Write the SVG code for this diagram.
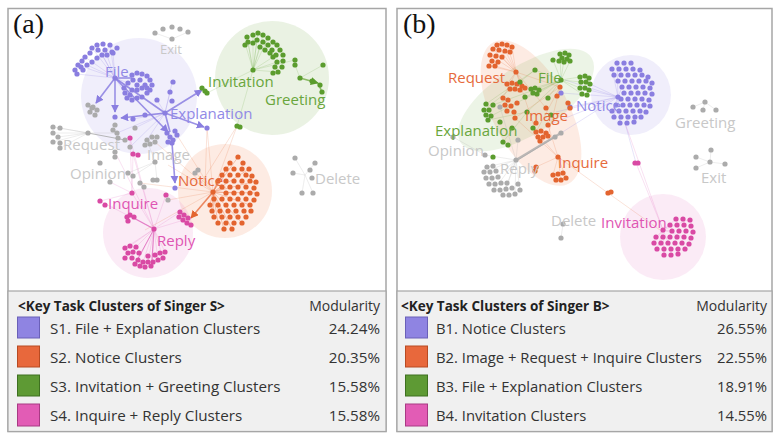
<svg xmlns="http://www.w3.org/2000/svg" width="777" height="438" viewBox="0 0 777 438">
<style>
.frame{fill:#fff;stroke:#a6a6a6;stroke-width:1.5}
.leg{fill:#f0f0f0;stroke:#a6a6a6;stroke-width:1.2}
.lbl{font-family:"Open Sans","Noto Sans","DejaVu Sans",sans-serif;font-size:15px}
.pu{fill:#8a7ee0}.or{fill:#e3642f}.gr{fill:#5b9c2e}.pk{fill:#d94aa4}.gy{fill:#ababab}
.tpu{fill:#9189e6}.tor{fill:#e66a3b}.tgr{fill:#69a63c}.tpk{fill:#df55b3}.tgy{fill:#c8c8c8}
.dots circle{r:2.6px}
.e-pu{stroke:#8a7ee0;fill:none}
.e-or{stroke:#e8764a;fill:none}
.e-gr{stroke:#7ab050;fill:none}
.e-pk{stroke:#e070c0;fill:none}
.e-gy{stroke:#aaaaaa;fill:none}
.faint{stroke-width:0.6;stroke-opacity:0.35}
.bold{stroke-width:1.6;stroke-opacity:0.85}
.ptitle{font-family:"Liberation Serif",serif;font-size:28px;fill:#111}
.lh{font-family:"Open Sans","Noto Sans",sans-serif;font-size:13.5px;font-weight:bold;fill:#222}
.lt{font-family:"Open Sans","Noto Sans",sans-serif;font-size:15.2px;fill:#333}
.ltb{font-family:"Open Sans","Noto Sans",sans-serif;font-size:14.8px;fill:#333}
.mod{font-family:"Open Sans","Noto Sans",sans-serif;font-size:14px;fill:#333}
</style>
<defs>
<marker id="apu" viewBox="0 0 10 10" refX="9" refY="5" markerWidth="5" markerHeight="5" orient="auto"><path d="M0,0L10,5L0,10z" fill="#8a7ee0"/></marker>
<marker id="aor" viewBox="0 0 10 10" refX="9" refY="5" markerWidth="5" markerHeight="5" orient="auto"><path d="M0,0L10,5L0,10z" fill="#e3642f"/></marker>
<marker id="agr" viewBox="0 0 10 10" refX="9" refY="5" markerWidth="5" markerHeight="5" orient="auto"><path d="M0,0L10,5L0,10z" fill="#5b9c2e"/></marker>
</defs>
<rect width="777" height="438" fill="#fff"/>

<!-- Panel frames -->
<rect class="frame" x="8" y="8.5" width="378" height="423"/>
<rect class="leg" x="8" y="291" width="378" height="140.5"/>
<rect class="frame" x="397" y="8.5" width="375" height="423"/>
<rect class="leg" x="397" y="291" width="375" height="140.5"/>

<!-- ===== Panel (a) halos ===== -->
<g id="a-halos">
<circle cx="139" cy="96" r="58" fill="#8a7ee0" fill-opacity="0.13"/>
<circle cx="272" cy="78" r="57" fill="#7ab050" fill-opacity="0.16"/>
<circle cx="225" cy="191" r="47" fill="#f08050" fill-opacity="0.16"/>
<circle cx="148" cy="233" r="45" fill="#e070c0" fill-opacity="0.14"/>
</g>

<!-- ===== Panel (a) connectors ===== -->
<g id="a-connectors">
<g class="e-pu faint">
<path d="M115,78L97,45M115,78L103,44M115,78L110,45M115,78L92,48M115,78L85,57M115,78L78,65M115,78L77,74M115,78L87,65M115,78L102,55M115,78L113,53M115,78L132,90M115,78L128,83M115,78L125,93M115,78L130,95"/>
<path d="M165,113L133,119M165,113L145,115M165,113L172,83M165,113L170,92M165,113L157,100M165,113L135,128M165,113L117,133M165,113L147,140M165,113L130,147"/>
</g>
<g class="e-gr faint">
<path d="M253,70L247,37M253,70L253,35M253,70L258,33M253,70L263,35M253,70L268,38M253,70L245,43M253,70L248,42M253,70L257,40M253,70L260,47M253,70L273,57M253,70L278,72M253,70L283,60M253,70L295,60M253,70L207,93M253,70L237,126M300,78L323,65M300,78L295,65"/>
</g>
<g class="e-or faint">
<path d="M213,192L207,128M213,192L237,126M213,192L175,132M213,192L195,172M213,192L168,200M213,192L155,142M213,192L140,183M213,192L145,230M213,192L168,165M237,126L200,185M207,128L205,186"/>
<path d="M213,192L238,157M213,192L230,163M213,192L226,169M213,192L222,175M213,192L218,181M213,192L226,187M213,192L234,193M213,192L214,199M213,192L210,205M213,192L212,211M213,192L214,217M213,192L218,223M213,192L224,229M213,192L232,229M213,192L242,223M213,192L250,205M213,192L257,193M213,192L256,181M213,192L249,169" stroke-opacity="0.6"/>
</g>
<g class="e-pk faint">
<path d="M154,229L125,248M154,229L130,246M154,229L125,258M154,229L138,260M154,229L148,262M154,229L158,260M154,229L165,252M154,229L143,262M154,229L163,258M154,229L132,193M154,229L130,138M154,229L133,154M154,229L166,195M154,229L180,212M154,229L184,220M154,229L100,201M154,229L115,152M132,193L133,154M132,193L130,138M132,193L110,182M132,193L100,201"/>
</g>
<g class="e-gy faint">
<path d="M88,133L53,127M88,133L60,128M88,133L53,133M88,133L58,137M88,133L53,142M88,133L60,148M88,133L117,133M155,162L147,140M155,162L128,173M155,162L157,180M155,162L133,176M305,175L295,158M305,175L315,163M305,175L293,173M305,175L302,193M305,175L313,193M172,39L155,33M172,39L188,32"/>
</g>
<g class="bold">
<path class="e-pu" d="M115,78L96,103" marker-end="url(#apu)"/>
<path class="e-pu" d="M115,78L115,112" marker-end="url(#apu)"/>
<path class="e-pu" d="M115,78L132,78"/>
<path class="e-pu" d="M115,78L165,113"/>
<path class="e-pu" d="M115,78L168,132" marker-end="url(#apu)"/>
<path class="e-pu" d="M165,113L202,90" marker-end="url(#apu)"/>
<path class="e-pu" d="M165,113L204,127" marker-end="url(#apu)"/>
<path class="e-pu" d="M165,113L121,118" marker-end="url(#apu)"/>
<path class="e-pu" d="M165,113L170,132"/>
<path class="e-pu" d="M172,143L175,183" marker-end="url(#apu)"/>
<path class="e-gy" d="M88,133L125,140" stroke-width="1"/>
<path class="e-gr" d="M300,78L318,83" marker-end="url(#agr)"/>
<path class="e-gr" d="M318,83L322,92"/>
<path class="e-or" d="M213,192L191,218" marker-end="url(#aor)"/>
<path class="e-pk" d="M154,229L132,217" stroke-width="1.2"/>
<path class="e-pk" d="M154,229L152,260" stroke-width="1.2"/>
<path class="e-pk" d="M154,229L135,264" stroke-width="1"/>
</g>
</g>

<!-- ===== Panel (a) nodes ===== -->
<g id="a-file-explanation" class="dots pu">
<circle cx="115" cy="78"/><circle cx="165" cy="113"/>
<circle cx="97" cy="45"/><circle cx="103" cy="44"/><circle cx="110" cy="45"/><circle cx="117" cy="48"/><circle cx="112" cy="52"/><circle cx="105" cy="50"/><circle cx="98" cy="50"/><circle cx="92" cy="48"/><circle cx="90" cy="53"/><circle cx="85" cy="57"/><circle cx="82" cy="61"/><circle cx="78" cy="65"/><circle cx="75" cy="70"/><circle cx="77" cy="74"/><circle cx="83" cy="70"/><circle cx="87" cy="65"/><circle cx="92" cy="62"/><circle cx="97" cy="58"/><circle cx="102" cy="55"/><circle cx="107" cy="55"/><circle cx="113" cy="53"/><circle cx="81" cy="67"/>
<circle cx="132" cy="75"/><circle cx="137" cy="73"/><circle cx="142" cy="74"/><circle cx="147" cy="76"/><circle cx="150" cy="80"/><circle cx="152" cy="85"/><circle cx="150" cy="90"/><circle cx="147" cy="93"/><circle cx="142" cy="97"/><circle cx="137" cy="98"/><circle cx="132" cy="100"/><circle cx="127" cy="98"/><circle cx="125" cy="93"/><circle cx="124" cy="88"/><circle cx="128" cy="83"/><circle cx="133" cy="80"/><circle cx="140" cy="80"/><circle cx="145" cy="85"/><circle cx="142" cy="88"/><circle cx="137" cy="90"/><circle cx="132" cy="90"/><circle cx="137" cy="85"/><circle cx="130" cy="95"/><circle cx="147" cy="88"/>
<circle cx="173" cy="82"/><circle cx="170" cy="92"/><circle cx="172" cy="101"/><circle cx="157" cy="100"/><circle cx="115" cy="117"/><circle cx="133" cy="119"/><circle cx="145" cy="115"/><circle cx="207" cy="128"/><circle cx="175" cy="188"/>
<circle cx="167" cy="133"/><circle cx="170" cy="137"/><circle cx="173" cy="140"/><circle cx="177" cy="135"/><circle cx="172" cy="143"/><circle cx="168" cy="142"/><circle cx="175" cy="131"/>
</g>
<g id="a-invitation-greeting" class="dots gr">
<circle cx="253" cy="70"/>
<circle cx="247" cy="37"/><circle cx="253" cy="35"/><circle cx="258" cy="33"/><circle cx="263" cy="35"/><circle cx="268" cy="38"/><circle cx="273" cy="42"/><circle cx="277" cy="45"/><circle cx="280" cy="50"/><circle cx="283" cy="55"/><circle cx="283" cy="61"/><circle cx="282" cy="67"/><circle cx="278" cy="72"/><circle cx="273" cy="73"/><circle cx="275" cy="67"/><circle cx="277" cy="62"/><circle cx="273" cy="57"/><circle cx="270" cy="53"/><circle cx="265" cy="50"/><circle cx="260" cy="47"/><circle cx="253" cy="43"/><circle cx="248" cy="42"/><circle cx="245" cy="45"/><circle cx="257" cy="40"/><circle cx="263" cy="42"/><circle cx="268" cy="45"/><circle cx="272" cy="50"/><circle cx="276" cy="55"/>
<circle cx="295" cy="60"/><circle cx="295" cy="65"/><circle cx="300" cy="78"/><circle cx="312" cy="81"/><circle cx="320" cy="85"/><circle cx="322" cy="92"/><circle cx="323" cy="65"/>
<circle cx="202" cy="88"/><circle cx="205" cy="91"/><circle cx="207" cy="93"/>
<circle cx="237" cy="126"/><circle cx="240" cy="127"/>
</g>
<g id="a-notice" class="dots or">
<circle cx="213" cy="192"/>
<circle cx="238" cy="157"/>
<circle cx="230" cy="163"/><circle cx="243" cy="163"/>
<circle cx="226" cy="169"/><circle cx="234" cy="169"/><circle cx="242" cy="169"/><circle cx="249" cy="169"/>
<circle cx="222" cy="175"/><circle cx="230" cy="175"/><circle cx="238" cy="175"/><circle cx="246" cy="175"/><circle cx="252" cy="176"/>
<circle cx="218" cy="181"/><circle cx="226" cy="181"/><circle cx="234" cy="181"/><circle cx="242" cy="181"/><circle cx="250" cy="181"/><circle cx="256" cy="182"/>
<circle cx="222" cy="187"/><circle cx="230" cy="187"/><circle cx="238" cy="187"/><circle cx="246" cy="187"/><circle cx="254" cy="188"/>
<circle cx="226" cy="193"/><circle cx="234" cy="193"/><circle cx="242" cy="193"/><circle cx="250" cy="193"/><circle cx="257" cy="194"/>
<circle cx="214" cy="199"/><circle cx="222" cy="199"/><circle cx="230" cy="199"/><circle cx="238" cy="199"/><circle cx="246" cy="199"/><circle cx="254" cy="200"/>
<circle cx="210" cy="205"/><circle cx="218" cy="205"/><circle cx="226" cy="205"/><circle cx="234" cy="205"/><circle cx="242" cy="205"/><circle cx="250" cy="205"/>
<circle cx="212" cy="211"/><circle cx="220" cy="211"/><circle cx="228" cy="211"/><circle cx="236" cy="211"/><circle cx="244" cy="211"/><circle cx="251" cy="211"/>
<circle cx="214" cy="217"/><circle cx="222" cy="217"/><circle cx="230" cy="217"/><circle cx="238" cy="217"/><circle cx="246" cy="217"/>
<circle cx="218" cy="223"/><circle cx="226" cy="223"/><circle cx="234" cy="223"/><circle cx="242" cy="223"/>
<circle cx="224" cy="229"/><circle cx="232" cy="229"/>
</g>
<g id="a-inquire-reply" class="dots pk">
<circle cx="154" cy="229"/><circle cx="132" cy="193"/>
<circle cx="130" cy="138"/><circle cx="133" cy="154"/><circle cx="138" cy="155"/><circle cx="100" cy="201"/><circle cx="105" cy="205"/><circle cx="166" cy="195"/>
<circle cx="127" cy="217"/><circle cx="130" cy="215"/><circle cx="134" cy="217"/><circle cx="128" cy="221"/>
<circle cx="180" cy="212"/><circle cx="184" cy="215"/><circle cx="188" cy="218"/><circle cx="183" cy="220"/><circle cx="187" cy="223"/><circle cx="191" cy="225"/><circle cx="179" cy="217"/>
<circle cx="125" cy="248"/><circle cx="130" cy="246"/><circle cx="136" cy="247"/><circle cx="128" cy="253"/><circle cx="133" cy="252"/><circle cx="139" cy="253"/><circle cx="125" cy="258"/><circle cx="132" cy="258"/><circle cx="138" cy="260"/><circle cx="143" cy="262"/><circle cx="148" cy="262"/><circle cx="153" cy="262"/><circle cx="158" cy="260"/><circle cx="163" cy="258"/><circle cx="165" cy="252"/><circle cx="148" cy="256"/><circle cx="155" cy="255"/><circle cx="160" cy="253"/><circle cx="140" cy="266"/><circle cx="145" cy="267"/><circle cx="151" cy="266"/><circle cx="135" cy="264"/>
</g>
<g id="a-others" class="dots gy">
<circle cx="155" cy="33"/><circle cx="163" cy="29"/><circle cx="172" cy="27"/><circle cx="180" cy="29"/><circle cx="188" cy="32"/><circle cx="172" cy="39"/>
<circle cx="88" cy="105"/><circle cx="93" cy="107"/><circle cx="97" cy="110"/><circle cx="90" cy="112"/><circle cx="95" cy="115"/><circle cx="92" cy="108"/>
<circle cx="88" cy="133"/><circle cx="53" cy="127"/><circle cx="60" cy="128"/><circle cx="53" cy="133"/><circle cx="58" cy="137"/><circle cx="53" cy="142"/><circle cx="60" cy="143"/><circle cx="60" cy="148"/>
<circle cx="115" cy="125"/><circle cx="113" cy="130"/><circle cx="117" cy="133"/><circle cx="118" cy="138"/><circle cx="125" cy="140"/><circle cx="135" cy="128"/><circle cx="130" cy="147"/><circle cx="115" cy="152"/><circle cx="115" cy="157"/>
<circle cx="147" cy="140"/><circle cx="152" cy="137"/><circle cx="157" cy="137"/><circle cx="155" cy="142"/><circle cx="150" cy="144"/><circle cx="145" cy="145"/><circle cx="155" cy="162"/><circle cx="157" cy="180"/><circle cx="153" cy="180"/>
<circle cx="100" cy="163"/><circle cx="110" cy="182"/><circle cx="128" cy="173"/><circle cx="133" cy="176"/><circle cx="140" cy="183"/><circle cx="144" cy="187"/><circle cx="168" cy="200"/><circle cx="195" cy="173"/><circle cx="198" cy="170"/>
<circle cx="295" cy="158"/><circle cx="315" cy="163"/><circle cx="293" cy="173"/><circle cx="310" cy="170"/><circle cx="312" cy="178"/><circle cx="302" cy="193"/><circle cx="313" cy="193"/>
</g>

<!-- Panel (a) labels -->
<g id="a-labels" class="lbl">
<text x="13" y="33" class="ptitle">(a)</text>
<text x="160" y="54" class="tgy" font-size="13">Exit</text>
<text x="105" y="77" class="tpu">File</text>
<text x="170" y="119" class="tpu">Explanation</text>
<text x="208" y="87" class="tgr">Invitation</text>
<text x="265" y="105" class="tgr">Greeting</text>
<text x="63" y="150" class="tgy">Request</text>
<text x="147" y="160" class="tgy">Image</text>
<text x="70" y="179" class="tgy">Opinion</text>
<text x="178" y="186" class="tor">Notice</text>
<text x="315" y="184" class="tgy">Delete</text>
<text x="108" y="209" class="tpk">Inquire</text>
<text x="157" y="246" class="tpk">Reply</text>
</g>

<!-- ===== Panel (b) halos ===== -->
<g id="b-halos">
<ellipse cx="531" cy="113" rx="80" ry="38" transform="rotate(62 531 113)" fill="#f08050" fill-opacity="0.16"/>
<ellipse cx="526" cy="100" rx="78" ry="34" transform="rotate(-33 526 100)" fill="#7ab050" fill-opacity="0.14"/>
<circle cx="631" cy="95" r="40" fill="#8a7ee0" fill-opacity="0.13"/>
<circle cx="663" cy="237" r="43" fill="#e070c0" fill-opacity="0.14"/>
</g>

<!-- ===== Panel (b) connectors ===== -->
<g id="b-connectors">
<g class="e-pu faint">
<path d="M618,97L590,84M618,97L589,90M618,97L561,93M618,97L570,107M618,97L556,112M618,97L548,125M618,97L561,133M618,97L565,80M618,97L612,69M618,97L617,63M618,97L612,111M618,97L614,117M618,97L620,123M618,97L622,87M625,123L636,163"/>
</g>
<g class="e-gr faint">
<path d="M561,80L560,54M561,80L565,53M561,80L570,61M561,80L580,77M561,80L581,82M561,80L580,88M561,80L582,94M561,80L531,89M561,80L537,94M561,80L548,98M561,80L525,97M561,80L527,112M561,80L491,116M561,80L493,105M561,80L553,60M561,80L535,70M535,70L486,104M535,70L484,110M527,112L503,142M527,112L488,120"/>
</g>
<g class="e-or faint">
<path d="M516,72L497,45M516,72L502,44M516,72L507,45M516,72L512,47M516,72L493,49M516,72L490,55M516,72L489,66M516,72L495,66M516,72L502,57M516,72L507,84M516,72L522,86M516,72L525,88M516,72L560,87M516,72L503,98M516,72L546,108M516,72L536,132M560,87L536,132M560,87L548,136M560,87L515,118M558,157L553,175M558,157L566,178M558,157L561,180M558,157L536,167M558,157L536,132M558,157L548,125M558,157L608,193M608,193L660,230M558,157L515,118"/>
</g>
<g class="e-pk faint">
<path d="M636,163L663,230M625,123L663,230M663,230L676,219M663,230L670,225M663,230L672,231M663,230L656,237M663,230L654,243M663,230L657,249M663,230L664,255M663,230L671,249M663,230L684,237M663,230L690,219"/>
</g>
<g class="e-gy faint">
<path d="M516,160L487,167M516,160L484,172M516,160L489,184M516,160L494,190M516,160L503,195M516,160L515,194M516,160L520,190M516,160L506,189M516,160L485,155M516,160L500,107M516,160L518,140M485,155L453,137M705,102L693,107M705,102L716,110M705,102L703,110M710,162L711,150M710,162L696,157M710,162L725,164M710,162L696,168M563,224L561,238"/>
</g>
<path class="e-gy" d="M516,160L561,133" stroke-width="2.2" stroke-opacity="0.8"/>
<path class="e-gy" d="M518,160L555,137" stroke-width="1" stroke-opacity="0.7"/>
</g>

<!-- ===== Panel (b) nodes ===== -->
<g id="b-notice" class="dots pu">
<circle cx="618" cy="97"/><circle cx="561" cy="93"/><circle cx="570" cy="107"/>
<circle cx="617" cy="63"/><circle cx="624" cy="63"/><circle cx="631" cy="63"/>
<circle cx="612" cy="69"/><circle cx="619" cy="69"/><circle cx="626" cy="69"/><circle cx="633" cy="69"/><circle cx="640" cy="70"/>
<circle cx="614" cy="75"/><circle cx="621" cy="75"/><circle cx="628" cy="75"/><circle cx="635" cy="75"/><circle cx="642" cy="75"/><circle cx="648" cy="77"/>
<circle cx="618" cy="81"/><circle cx="625" cy="81"/><circle cx="632" cy="81"/><circle cx="639" cy="81"/><circle cx="646" cy="81"/><circle cx="652" cy="83"/>
<circle cx="622" cy="87"/><circle cx="629" cy="87"/><circle cx="636" cy="87"/><circle cx="643" cy="87"/><circle cx="650" cy="88"/>
<circle cx="624" cy="93"/><circle cx="631" cy="93"/><circle cx="638" cy="93"/><circle cx="645" cy="93"/><circle cx="652" cy="94"/>
<circle cx="621" cy="99"/><circle cx="628" cy="99"/><circle cx="635" cy="99"/><circle cx="642" cy="99"/><circle cx="649" cy="100"/>
<circle cx="616" cy="105"/><circle cx="623" cy="105"/><circle cx="630" cy="105"/><circle cx="637" cy="105"/><circle cx="644" cy="105"/><circle cx="650" cy="106"/>
<circle cx="612" cy="111"/><circle cx="619" cy="111"/><circle cx="626" cy="111"/><circle cx="633" cy="111"/><circle cx="640" cy="111"/><circle cx="646" cy="112"/>
<circle cx="614" cy="117"/><circle cx="621" cy="117"/><circle cx="628" cy="117"/><circle cx="635" cy="117"/><circle cx="641" cy="117"/>
<circle cx="620" cy="123"/><circle cx="627" cy="123"/><circle cx="634" cy="122"/>
</g>
<g id="b-image-request-inquire" class="dots or">
<circle cx="516" cy="72"/><circle cx="560" cy="87"/><circle cx="558" cy="157"/>
<circle cx="497" cy="45"/><circle cx="502" cy="44"/><circle cx="507" cy="45"/><circle cx="512" cy="47"/><circle cx="493" cy="49"/><circle cx="499" cy="50"/><circle cx="505" cy="51"/><circle cx="510" cy="52"/><circle cx="490" cy="55"/><circle cx="496" cy="56"/><circle cx="502" cy="57"/><circle cx="492" cy="61"/><circle cx="498" cy="62"/><circle cx="489" cy="66"/><circle cx="495" cy="66"/>
<circle cx="507" cy="84"/><circle cx="512" cy="83"/><circle cx="517" cy="84"/><circle cx="522" cy="86"/><circle cx="510" cy="89"/><circle cx="515" cy="89"/><circle cx="520" cy="90"/><circle cx="525" cy="88"/>
<circle cx="503" cy="98"/><circle cx="508" cy="100"/><circle cx="505" cy="105"/><circle cx="511" cy="106"/><circle cx="507" cy="111"/><circle cx="514" cy="112"/><circle cx="515" cy="118"/><circle cx="517" cy="103"/>
<circle cx="568" cy="103"/><circle cx="570" cy="108"/><circle cx="546" cy="108"/><circle cx="548" cy="125"/><circle cx="536" cy="123"/><circle cx="557" cy="96"/>
<circle cx="536" cy="132"/><circle cx="541" cy="131"/><circle cx="546" cy="133"/><circle cx="538" cy="137"/><circle cx="543" cy="137"/><circle cx="548" cy="136"/><circle cx="540" cy="141"/>
<circle cx="536" cy="167"/><circle cx="535" cy="171"/>
<circle cx="553" cy="175"/><circle cx="558" cy="174"/><circle cx="563" cy="173"/><circle cx="556" cy="180"/><circle cx="561" cy="180"/><circle cx="566" cy="178"/>
<circle cx="608" cy="193"/><circle cx="611" cy="192"/>
</g>
<g id="b-file-explanation" class="dots gr">
<circle cx="561" cy="80"/>
<circle cx="560" cy="54"/><circle cx="565" cy="53"/><circle cx="569" cy="55"/><circle cx="562" cy="58"/><circle cx="567" cy="59"/><circle cx="559" cy="61"/><circle cx="564" cy="62"/><circle cx="570" cy="61"/><circle cx="553" cy="60"/><circle cx="535" cy="70"/>
<circle cx="580" cy="77"/><circle cx="585" cy="76"/><circle cx="589" cy="78"/><circle cx="581" cy="82"/><circle cx="586" cy="82"/><circle cx="590" cy="84"/><circle cx="580" cy="88"/><circle cx="585" cy="88"/><circle cx="589" cy="90"/><circle cx="582" cy="94"/><circle cx="587" cy="95"/>
<circle cx="531" cy="89"/><circle cx="535" cy="88"/><circle cx="539" cy="90"/><circle cx="533" cy="93"/><circle cx="537" cy="94"/>
<circle cx="486" cy="104"/><circle cx="484" cy="110"/><circle cx="489" cy="110"/><circle cx="486" cy="115"/><circle cx="491" cy="116"/><circle cx="488" cy="120"/><circle cx="493" cy="105"/>
<circle cx="503" cy="142"/><circle cx="508" cy="145"/><circle cx="493" cy="157"/><circle cx="548" cy="98"/><circle cx="527" cy="112"/><circle cx="525" cy="97"/><circle cx="500" cy="122"/><circle cx="512" cy="128"/><circle cx="533" cy="128"/><circle cx="551" cy="115"/><circle cx="520" cy="82"/>
</g>
<g id="b-invitation" class="dots pk">
<circle cx="663" cy="230"/><circle cx="635" cy="163"/><circle cx="638" cy="163"/>
<circle cx="676" cy="219"/><circle cx="683" cy="219"/><circle cx="690" cy="220"/>
<circle cx="670" cy="225"/><circle cx="677" cy="225"/><circle cx="684" cy="225"/><circle cx="691" cy="226"/>
<circle cx="672" cy="231"/><circle cx="679" cy="231"/><circle cx="686" cy="231"/><circle cx="693" cy="232"/>
<circle cx="656" cy="237"/><circle cx="663" cy="237"/><circle cx="670" cy="237"/><circle cx="677" cy="237"/><circle cx="684" cy="237"/><circle cx="691" cy="238"/>
<circle cx="654" cy="243"/><circle cx="661" cy="243"/><circle cx="668" cy="243"/><circle cx="675" cy="243"/><circle cx="682" cy="243"/><circle cx="689" cy="244"/>
<circle cx="657" cy="249"/><circle cx="664" cy="249"/><circle cx="671" cy="249"/><circle cx="678" cy="249"/><circle cx="685" cy="249"/>
<circle cx="664" cy="255"/><circle cx="671" cy="255"/><circle cx="678" cy="254"/>
</g>
<g id="b-others" class="dots gy">
<circle cx="516" cy="160"/><circle cx="561" cy="133"/><circle cx="555" cy="137"/><circle cx="485" cy="155"/><circle cx="453" cy="137"/><circle cx="500" cy="107"/><circle cx="518" cy="140"/>
<circle cx="487" cy="167"/><circle cx="493" cy="166"/><circle cx="484" cy="172"/><circle cx="490" cy="172"/><circle cx="496" cy="171"/><circle cx="486" cy="178"/><circle cx="492" cy="178"/><circle cx="498" cy="177"/><circle cx="489" cy="184"/><circle cx="495" cy="184"/><circle cx="501" cy="183"/><circle cx="494" cy="190"/><circle cx="500" cy="190"/><circle cx="506" cy="189"/><circle cx="512" cy="188"/><circle cx="503" cy="195"/><circle cx="509" cy="195"/><circle cx="515" cy="194"/><circle cx="520" cy="190"/><circle cx="518" cy="184"/><circle cx="507" cy="183"/>
<circle cx="693" cy="107"/><circle cx="705" cy="102"/><circle cx="703" cy="110"/><circle cx="716" cy="110"/>
<circle cx="711" cy="150"/><circle cx="696" cy="157"/><circle cx="710" cy="162"/><circle cx="725" cy="164"/><circle cx="696" cy="168"/>
<circle cx="563" cy="224"/><circle cx="561" cy="238"/>
</g>

<!-- Panel (b) labels -->
<g id="b-labels" class="lbl">
<text x="403" y="33" class="ptitle">(b)</text>
<text x="448" y="83" class="tor">Request</text>
<text x="538" y="83" class="tgr">File</text>
<text x="576" y="111" class="tpu">Notice</text>
<text x="525" y="121" class="tor">Image</text>
<text x="435" y="136" class="tgr">Explanation</text>
<text x="428" y="156" class="tgy">Opinion</text>
<text x="500" y="174" class="tgy">Reply</text>
<text x="558" y="168" class="tor">Inquire</text>
<text x="675" y="128" class="tgy">Greeting</text>
<text x="701" y="183" class="tgy">Exit</text>
<text x="551" y="226" class="tgy">Delete</text>
<text x="601" y="228" class="tpk">Invitation</text>
</g>

<!-- ===== Legends ===== -->
<g id="legend-a">
<text x="18" y="311" class="lh">&lt;Key Task Clusters of Singer S&gt;</text>
<text x="380" y="311" class="mod" text-anchor="end">Modularity</text>
<rect x="17.5" y="317" width="22" height="21" fill="#8f84e2" stroke="#6a60b8"/>
<rect x="17.5" y="346" width="22" height="21" fill="#e8683c" stroke="#b84a22"/>
<rect x="17.5" y="375" width="22" height="21" fill="#5e9a34" stroke="#3e7020"/>
<rect x="17.5" y="404" width="22" height="22" fill="#e25cb5" stroke="#a83a84"/>
<text x="50" y="334" class="lt">S1. File + Explanation Clusters</text>
<text x="50" y="363" class="lt">S2. Notice Clusters</text>
<text x="50" y="392" class="lt">S3. Invitation + Greeting Clusters</text>
<text x="50" y="421" class="lt">S4. Inquire + Reply Clusters</text>
<text x="380" y="334" class="lt" text-anchor="end">24.24%</text>
<text x="380" y="363" class="lt" text-anchor="end">20.35%</text>
<text x="380" y="392" class="lt" text-anchor="end">15.58%</text>
<text x="380" y="421" class="lt" text-anchor="end">15.58%</text>
</g>
<g id="legend-b">
<text x="401" y="311" class="lh">&lt;Key Task Clusters of Singer B&gt;</text>
<text x="767" y="311" class="mod" text-anchor="end">Modularity</text>
<rect x="405.5" y="317" width="22" height="21" fill="#8f84e2" stroke="#6a60b8"/>
<rect x="405.5" y="346" width="22" height="21" fill="#e8683c" stroke="#b84a22"/>
<rect x="405.5" y="375" width="22" height="21" fill="#5e9a34" stroke="#3e7020"/>
<rect x="405.5" y="404" width="22" height="22" fill="#e25cb5" stroke="#a83a84"/>
<text x="436" y="334" class="ltb">B1. Notice Clusters</text>
<text x="436" y="363" class="ltb">B2. Image + Request + Inquire Clusters</text>
<text x="436" y="392" class="ltb">B3. File + Explanation Clusters</text>
<text x="436" y="421" class="ltb">B4. Invitation Clusters</text>
<text x="767" y="334" class="ltb" text-anchor="end">26.55%</text>
<text x="767" y="363" class="ltb" text-anchor="end">22.55%</text>
<text x="767" y="392" class="ltb" text-anchor="end">18.91%</text>
<text x="767" y="421" class="ltb" text-anchor="end">14.55%</text>
</g>
</svg>
